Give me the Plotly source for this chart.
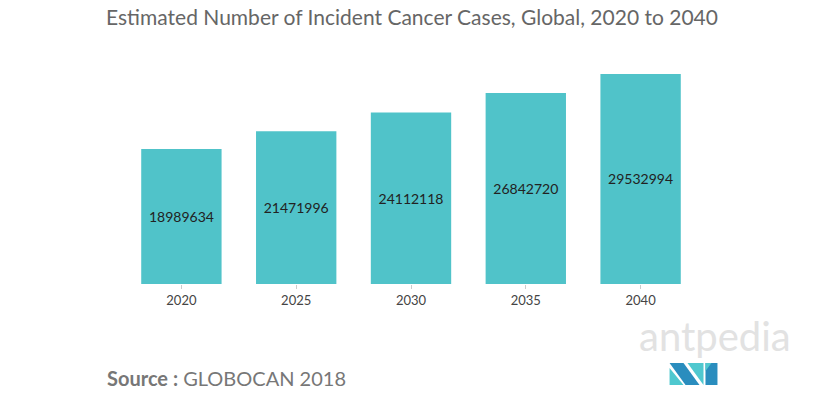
import plotly.graph_objects as go

years = ["2020", "2025", "2030", "2035", "2040"]
cases = [18989634, 21471996, 24112118, 26842720, 29532994]

W, H = 823, 395
L, R, T, B = 123.5, 124.5, 50, 111
PW, PH = W - L - R, H - T - B

def px(x):  # screen x -> paper
    return (x - L) / PW

def py(y):  # screen y -> paper
    return (H - B - y) / PH

fig = go.Figure(go.Bar(
    x=years, y=cases,
    marker=dict(color="#50C3C9", line=dict(width=0)),
    text=[str(v) for v in cases],
    textposition="inside", insidetextanchor="middle",
    textfont=dict(family="Lato, sans-serif", size=14, color="#222222"),
    width=0.7,
))

fig.update_layout(
    width=W, height=H,
    margin=dict(l=L, r=R, t=T, b=B),
    paper_bgcolor="white", plot_bgcolor="white",
    showlegend=False,
    title=dict(text="Estimated Number of Incident Cancer Cases, Global, 2020 to 2040",
               x=412 / W, xanchor="center", y=1 - 18 / H, yanchor="middle",
               font=dict(family="Lato, sans-serif", size=21, color="#666666")),
    xaxis=dict(showline=False, ticks="outside", ticklen=4, tickcolor="#cccccc",
               tickfont=dict(family="Lato, sans-serif", size=13, color="#444444")),
    yaxis=dict(visible=False, range=[0, 32.9e6]),
    font=dict(family="Lato, sans-serif"),
)

fig.add_annotation(
    text="<b>Source :</b> GLOBOCAN 2018",
    xref="paper", yref="paper", x=px(104), y=py(378),
    xanchor="left", yanchor="middle", showarrow=False,
    font=dict(family="Lato, sans-serif", size=20, color="#777777"),
)
fig.add_annotation(
    text="antpedia",
    xref="paper", yref="paper", x=px(716), y=py(336),
    xanchor="center", yanchor="middle", showarrow=False,
    font=dict(family="Lato, sans-serif", size=40, color="#e2e2e2"),
)

def poly(points, color):
    d = "M " + " L ".join(f"{px(x):.5f},{py(y):.5f}" for x, y in points) + " Z"
    fig.add_shape(type="path", path=d, xref="paper", yref="paper",
                  fillcolor=color, line=dict(width=0), layer="above")

poly([(670, 368), (670, 385), (684, 385)], "#4FC8CF")
poly([(670, 363), (684, 363), (700, 385), (686, 385)], "#2A8DBE")
poly([(688, 363), (704, 363), (704, 385)], "#4FC8CF")
poly([(706, 363), (718, 363), (718, 385), (706, 385)], "#2A8DBE")
poly([(706, 363), (712, 363), (706, 371)], "#4FC8CF")

fig.write_html("out.html", config={"displayModeBar": False},
               post_script="document.body.style.margin='0';")
